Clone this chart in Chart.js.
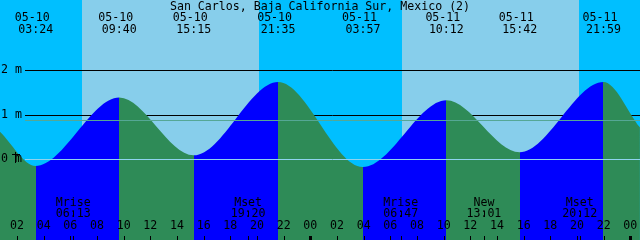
<!DOCTYPE html>
<html>
<head>
<meta charset="utf-8">
<script src="https://cdn.jsdelivr.net/npm/chart.js@4.4.0/dist/chart.umd.min.js"></script>
<style>
  html, body { margin: 0; padding: 0; background: #87CEEB; }
  #chart { display: block; }
</style>
</head>
<body>
<canvas id="chart" width="640" height="240"></canvas>
<script>
"use strict";

// Station title
const title = "San Carlos, Baja California Sur, Mexico (2)";

// Tide curve: window edges plus highs and lows (metres)
const tideTimes  = ["05-10 00:43", "05-10 03:24", "05-10 09:40", "05-10 15:15", "05-10 21:35",
                    "05-11 03:57", "05-11 10:12", "05-11 15:42", "05-11 21:59", "05-12 00:43"];
const tideLevels = [0.62, -0.15, 1.39, 0.09, 1.74, -0.17, 1.33, 0.16, 1.74, 0.72];

// Labels of the highs and lows along the top
const eventDates = ["05-10", "05-10", "05-10", "05-10", "05-11", "05-11", "05-11", "05-11"];
const eventTimes = ["03:24", "09:40", "15:15", "21:35", "03:57", "10:12", "15:42", "21:59"];

// Sunrise / sunset
const sunTimes = ["05-10 06:51", "05-10 20:09", "05-11 06:51", "05-11 20:09"];

// Moon events
const moonNames = ["Mrise", "Mset", "Mrise", "New", "Mset"];
const moonTimes = ["05-10 06:13", "05-10 19:20", "05-11 06:47", "05-11 13:01", "05-11 20:12"];

// Depth lines
const depthLevels = [2, 1, 0];
const depthLabels = ["2 m", "1 m", "0 m"];
const meanLevel = 0.88;

// Hour ticks along the bottom
const hourTicks = ["05-10 02:00", "05-10 04:00", "05-10 06:00", "05-10 08:00", "05-10 10:00", "05-10 12:00",
                   "05-10 14:00", "05-10 16:00", "05-10 18:00", "05-10 20:00", "05-10 22:00", "05-11 00:00",
                   "05-11 02:00", "05-11 04:00", "05-11 06:00", "05-11 08:00", "05-11 10:00", "05-11 12:00",
                   "05-11 14:00", "05-11 16:00", "05-11 18:00", "05-11 20:00", "05-11 22:00", "05-12 00:00"];

// Colours
const NIGHT = "#00BFFF";
const DAY = "#87CEEB";
const RISING = "#0000FF";
const FALLING = "#2E8B57";
const FONT = "11.6px 'DejaVu Sans Mono'";

// "MM-DD HH:MM" -> hours since 05-10 00:00
function toHours(s) {
    const day = parseInt(s.slice(3, 5)) - 10;
    const h = parseInt(s.slice(6, 8));
    const m = parseInt(s.slice(9, 11));
    return day * 24 + h + m / 60;
}

const points = tideTimes.map((t, i) => ({ x: toHours(t), y: tideLevels[i] }));

// Water colour: blue while rising, green while falling, switching at each high / low
function waterFill(context) {
    const chart = context.chart;
    const area = chart.chartArea;
    if (!area) return FALLING;
    const xs = chart.scales.x;
    const w = area.right - area.left;
    const g = chart.ctx.createLinearGradient(area.left, 0, area.right, 0);
    for (let i = 0; i < points.length - 1; i++) {
        const c = points[i + 1].y > points[i].y ? RISING : FALLING;
        const a = Math.min(1, Math.max(0, (Math.round(xs.getPixelForValue(points[i].x)) - area.left) / w));
        const b = Math.min(1, Math.max(0, (Math.round(xs.getPixelForValue(points[i + 1].x)) - area.left) / w));
        g.addColorStop(a, c);
        g.addColorStop(b, c);
    }
    return g;
}

// Background, depth lines, labels
const tidePlugin = {
    id: "tideDecor",
    beforeDatasetsDraw(chart) {
        const ctx = chart.ctx;
        const xs = chart.scales.x;
        const ys = chart.scales.y;
        const area = chart.chartArea;

        // night / day bands
        ctx.save();
        ctx.fillStyle = NIGHT;
        ctx.fillRect(area.left, area.top, area.right - area.left, area.bottom - area.top);
        ctx.fillStyle = DAY;
        for (let i = 0; i < sunTimes.length; i += 2) {
            const x0 = Math.round(xs.getPixelForValue(toHours(sunTimes[i])));
            const x1 = Math.round(xs.getPixelForValue(toHours(sunTimes[i + 1])));
            ctx.fillRect(x0, area.top, x1 - x0, area.bottom - area.top);
        }

        // black depth lines (hidden by water)
        ctx.strokeStyle = "#000";
        ctx.lineWidth = 1;
        for (const v of depthLevels) {
            const y = Math.round(ys.getPixelForValue(v)) + 0.5;
            ctx.beginPath();
            ctx.moveTo(25, y);
            ctx.lineTo(area.right, y);
            ctx.stroke();
        }
        ctx.restore();
    },
    afterDatasetsDraw(chart) {
        const ctx = chart.ctx;
        const xs = chart.scales.x;
        const ys = chart.scales.y;
        const area = chart.chartArea;
        ctx.save();

        // zero and mean lines on top of water
        const lines = [[0, "#8fd3ef"], [meanLevel, "#55a795"]];
        for (const [v, c] of lines) {
            const y = Math.round(ys.getPixelForValue(v)) + 0.5;
            ctx.strokeStyle = c;
            ctx.lineWidth = 1;
            ctx.beginPath();
            ctx.moveTo(25, y);
            ctx.lineTo(area.right, y);
            ctx.stroke();
        }

        ctx.fillStyle = "#000";
        ctx.strokeStyle = "#000";
        ctx.font = FONT;
        ctx.textBaseline = "middle";

        // depth labels
        ctx.textAlign = "left";
        depthLevels.forEach((v, i) => {
            ctx.fillText(depthLabels[i], 1, ys.getPixelForValue(v));
        });
        // small mark at the 0 m label
        const y0 = Math.round(ys.getPixelForValue(0));
        ctx.fillRect(15, y0 - 7, 1, 11);
        ctx.fillRect(12, y0 - 5, 8, 1);

        // title
        ctx.textAlign = "center";
        ctx.fillText(title, 320, 6.5);

        // high / low labels
        eventTimes.forEach((t, i) => {
            const x = xs.getPixelForValue(toHours(eventDates[i] + " " + t));
            ctx.fillText(eventDates[i], x - 3.5, 18);
            ctx.fillText(t, x, 30);
        });

        // moon events
        moonTimes.forEach((t, i) => {
            const x = xs.getPixelForValue(toHours(t));
            ctx.fillText(moonNames[i], x, 202.5);
            ctx.fillText(t.slice(6), x, 213.5);
            const xp = Math.round(x);
            ctx.fillRect(xp, 211, 1, 6);
            ctx.fillRect(xp, 236, 1, 4);
        });

        // hour ticks
        hourTicks.forEach(t => {
            const x = xs.getPixelForValue(toHours(t));
            const xp = Math.round(x);
            ctx.fillText(t.slice(6, 8), x, 226);
            if (t.slice(6) === "00:00") {
                ctx.fillRect(xp - 1, 236, 3, 4);
            } else {
                ctx.fillRect(xp, 236, 1, 4);
            }
        });

        ctx.restore();
    }
};

// Chart config
const config = {
    type: "line",
    data: {
        datasets: [{
            data: points,
            borderColor: "rgba(0,0,0,0)",
            borderWidth: 0,
            pointRadius: 0,
            cubicInterpolationMode: "monotone",
            fill: "start",
            backgroundColor: waterFill
        }]
    },
    options: {
        responsive: false,
        animation: false,
        devicePixelRatio: 1,
        layout: { padding: 0 },
        plugins: {
            legend: { display: false },
            tooltip: { enabled: false }
        },
        scales: {
            x: { type: "linear", min: 0.725, max: 48.725, display: false },
            y: { min: -1.813, max: 3.58, display: false }
        }
    },
    plugins: [tidePlugin]
};

const chart = new Chart(document.getElementById("chart").getContext("2d"), config);
</script>
</body>
</html>
